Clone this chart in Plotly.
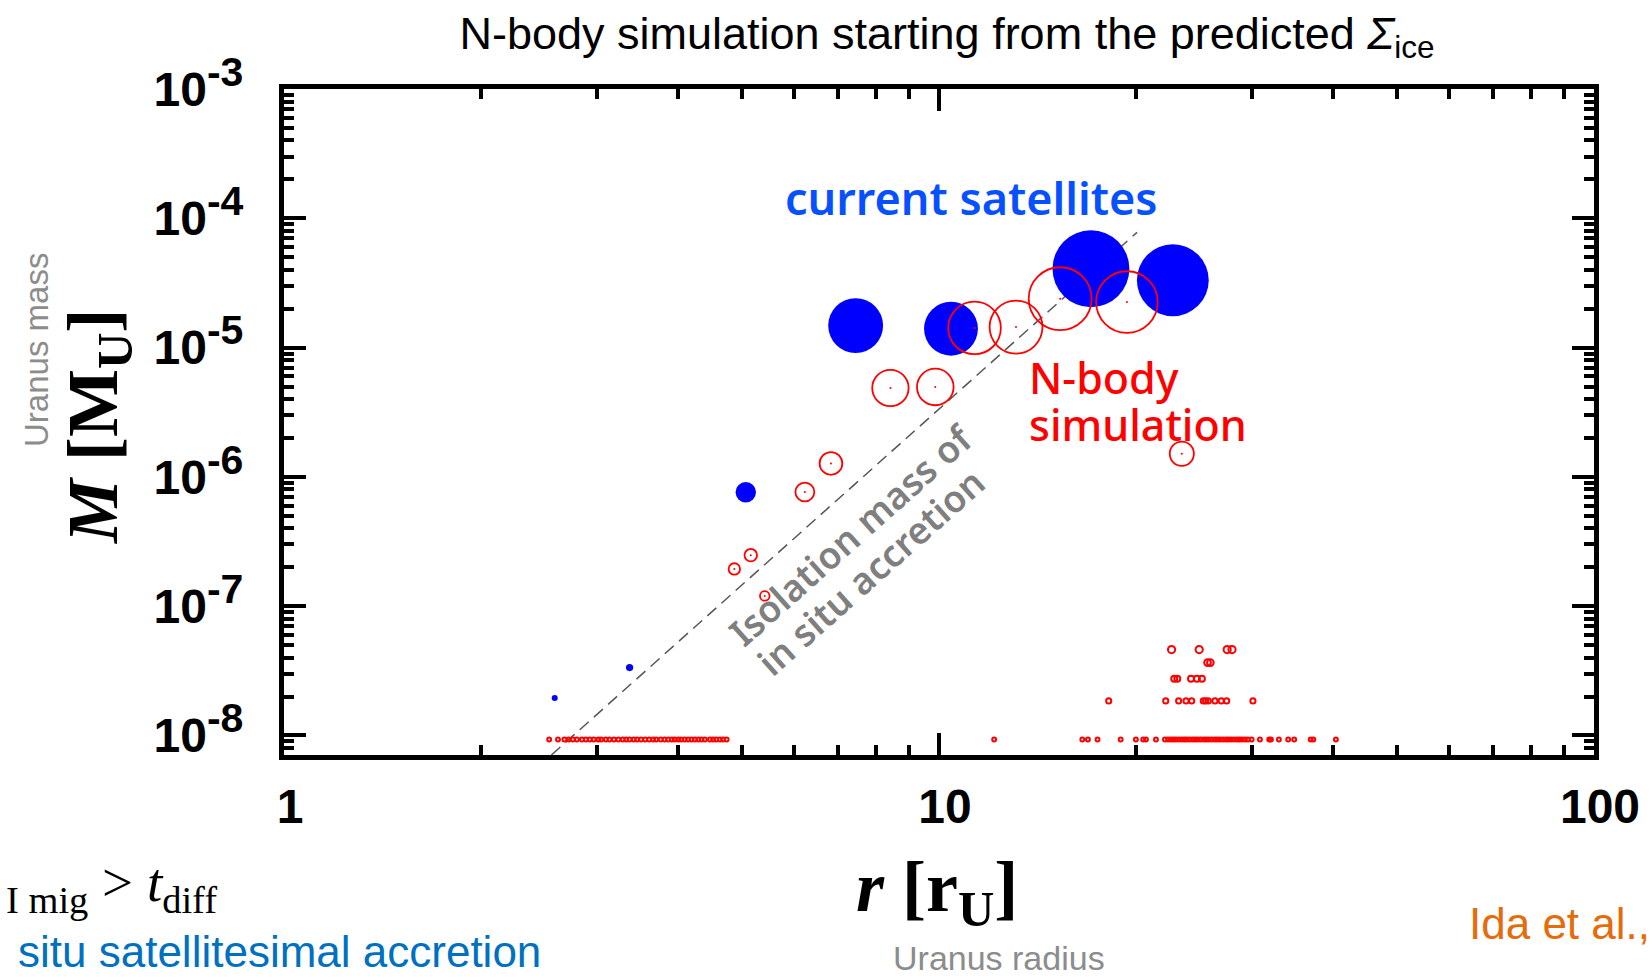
import plotly.graph_objects as go

# ---------------------------------------------------------------
# Data: orbital radius r [r_U] and mass M [M_U]
# ---------------------------------------------------------------

# Current Uranian satellites
sat_names = ["Portia", "Puck", "Miranda", "Ariel", "Umbriel", "Titania", "Oberon"]
sat_r = [2.59, 3.37, 5.07, 7.46, 10.43, 17.06, 22.75]
sat_m = [1.95e-8, 3.35e-8, 7.6e-7, 1.48e-5, 1.40e-5, 4.07e-5, 3.32e-5]

# N-body simulation: grown satellites
nb_r = [11.33, 13.11, 15.31, 19.36, 8.43, 9.87, 23.48, 6.84, 6.24, 5.16, 4.87, 5.42]
nb_m = [1.42e-5, 1.44e-5, 2.39e-5, 2.25e-5, 4.87e-6, 4.96e-6,
        1.51e-6, 1.27e-6, 7.64e-7, 2.48e-7, 1.94e-7, 1.20e-7]

# N-body simulation: leftover satellitesimals (1 to 5 merged units)
ss_mass_levels = [9.3e-9, 1.85e-8, 2.75e-8, 3.66e-8, 4.62e-8]
ss_inner_r = [2.54, 2.62, 2.68, 2.72, 2.76, 2.80, 2.85, 2.89, 2.93, 2.97, 3.02, 3.05,
              3.10, 3.14, 3.19, 3.24, 3.29, 3.33, 3.37, 3.42, 3.46, 3.51, 3.56, 3.61,
              3.66, 3.70, 3.76, 3.81, 3.86, 3.91, 3.95, 4.00, 4.04, 4.09, 4.14, 4.19,
              4.24, 4.29, 4.34, 4.39, 4.47, 4.52, 4.57, 4.63, 4.68, 4.74]
ss_outer_r_1 = [12.14, 16.55, 16.88, 17.46, 18.94, 19.98, 20.50, 20.70, 21.44,
                22.13, 22.37, 22.60, 22.80, 23.00, 23.25, 23.49, 23.70, 23.91, 24.16,
                24.42, 24.63, 24.85, 25.11, 25.38, 25.60, 25.83, 26.10, 26.38, 26.61,
                26.85, 27.13, 27.42, 27.66, 27.91, 28.20, 28.50, 28.75, 29.00, 29.31,
                29.62, 30.01, 30.90, 31.93, 32.12, 33.03, 34.13, 34.86, 36.94, 37.28, 40.36]
ss_outer_r_2 = [18.16, 22.19, 23.22, 23.83, 24.31, 25.32, 25.53, 25.77, 26.38, 26.97, 27.49, 30.15]
ss_outer_r_3 = [22.86, 23.11, 24.25, 24.76, 25.20]
ss_outer_r_4 = [25.70, 25.96]
ss_outer_r_5 = [22.65, 24.96, 27.54, 28.01]

# Isolation mass of in situ accretion (power law, end points)
iso_r = [2.56, 20.06]
iso_m = [7.06e-9, 7.79e-5]

# Axis ticks
x_tickvals = [1, 10, 100]
x_ticktext = ["1", "10", "100"]
y_tickvals = [1e-3, 1e-4, 1e-5, 1e-6, 1e-7, 1e-8]
y_exponents = ["-3", "-4", "-5", "-6", "-7", "-8"]

# ---------------------------------------------------------------
# Figure geometry
# ---------------------------------------------------------------
W, H = 1651, 977
L, R, T, B = 284, 57, 89, 222
PW, PH = W - L - R, H - T - B


def px(x):
    return (x - L) / PW


def py(y):
    return (H - B - y) / PH


SIZE_K = 2235.0  # marker diameter per M^(1/3)


def diam(m, shrink=0.0):
    return [SIZE_K * v ** (1.0 / 3.0) - shrink for v in m]


ARIAL = "Liberation Sans, Arial, Helvetica, sans-serif"
SERIF = "Liberation Serif, Times New Roman, serif"
SANS = "Noto Sans, Open Sans, sans-serif"

fig = go.Figure()

# isolation mass line
fig.add_trace(go.Scatter(
    x=iso_r, y=iso_m, mode="lines",
    line=dict(color="#555555", width=1.5, dash="12px,7px"),
    hoverinfo="skip", showlegend=False))

# current satellites
fig.add_trace(go.Scatter(
    x=sat_r, y=sat_m, mode="markers", text=sat_names,
    marker=dict(symbol="circle", color="#0000ff", size=diam(sat_m), opacity=1,
                line=dict(width=0)),
    showlegend=False))

# N-body grown bodies (rings with centre dots)
fig.add_trace(go.Scatter(
    x=nb_r, y=nb_m, mode="markers",
    marker=dict(symbol="circle-open", color="#ff0000", size=diam(nb_m, 1.5), opacity=1,
                line=dict(width=1.8)),
    showlegend=False))
fig.add_trace(go.Scatter(
    x=nb_r, y=nb_m, mode="markers",
    marker=dict(symbol="circle", color="#ff0000", size=2, opacity=1, line=dict(width=0)),
    hoverinfo="skip", showlegend=False))

# leftover satellitesimals
ss_rows = [ss_inner_r + ss_outer_r_1, ss_outer_r_2, ss_outer_r_3, ss_outer_r_4, ss_outer_r_5]
for row_r, m in zip(ss_rows, ss_mass_levels):
    fig.add_trace(go.Scatter(
        x=row_r, y=[m] * len(row_r), mode="markers",
        marker=dict(symbol="circle-open", color="#ff0000", opacity=1,
                    size=diam([m], 0.8)[0], line=dict(width=2)),
        showlegend=False))

# ---------------------------------------------------------------
# Axes
# ---------------------------------------------------------------
x_minor = [k * 10 ** e for e in (0, 1) for k in range(2, 10)]
y_minor = [k * 10.0 ** e for e in range(-9, -3) for k in range(2, 10)]

axis_common = dict(
    showline=True, linewidth=5, linecolor="black", mirror="ticks",
    ticks="inside", ticklen=22, tickwidth=4, tickcolor="black",
    showgrid=False, zeroline=False,
    tickfont=dict(family=ARIAL, size=48, color="black", weight="bold"),
)

fig.update_xaxes(
    type="log", range=[0, 2], tickmode="array",
    tickvals=x_tickvals, ticktext=x_ticktext,
    ticklabelstandoff=5, ticklabelshift=6,
    minor=dict(tickmode="array", tickvals=x_minor, ticks="inside",
               ticklen=10, tickwidth=3.5, tickcolor="black", showgrid=False),
    **axis_common)

fig.update_yaxes(
    type="log", range=[-8.151, -3], tickmode="array",
    tickvals=y_tickvals,
    ticktext=["10<sup><span style='font-size:41px'>%s</span></sup>" % e for e in y_exponents],
    ticklabelstandoff=26,
    minor=dict(tickmode="array", tickvals=y_minor, ticks="inside",
               ticklen=10, tickwidth=3.5, tickcolor="black", showgrid=False),
    **axis_common)

# ---------------------------------------------------------------
# Text
# ---------------------------------------------------------------
ann = []


def add_text(text, x, y, size, color="black", family=ARIAL, angle=0,
             xanchor="center", yanchor="middle", weight="normal", align="center"):
    ann.append(dict(
        text=text, x=px(x), y=py(y), xref="paper", yref="paper",
        xanchor=xanchor, yanchor=yanchor, showarrow=False, textangle=angle,
        align=align,
        font=dict(family=family, size=size, color=color, weight=weight)))


# axis titles
add_text("<i>M</i> [M<sub>U</sub>]", 98, 427, 72, family=SERIF, angle=-90, weight="bold")
add_text("Uranus mass", 36, 350, 33, color="#8c8c8c", angle=-90)
add_text("<i>r</i> [r<sub>U</sub>]", 937, 892, 72, family=SERIF, weight="bold")
add_text("Uranus radius", 999, 958, 34, color="#8c8c8c")

# in-plot labels
add_text("current satellites", 971, 197, 45, color="#0650ff", family=SANS, weight=600)
add_text("N-body", 1027, 377, 43, color="#ff0000", family=SANS, xanchor="left", weight=500)
add_text("simulation", 1027, 424, 43, color="#ff0000", family=SANS, xanchor="left", weight=500)
add_text("Isolation mass of", 850, 534, 37, color="#7f7f7f", family=SANS, angle=-41.7, weight=600)
add_text("in situ accretion", 870, 571, 37, color="#7f7f7f", family=SANS, angle=-41.7, weight=600)

# surrounding slide text
add_text("<sub>I mig</sub> > <i>t</i><sub>diff</sub>", 4, 886, 55, family=SERIF, xanchor="left")
add_text("situ satellitesimal accretion", 16, 951, 44, color="#0070c0", xanchor="left")
add_text("Ida et al.,", 1467, 923, 44, color="#e46c0a", xanchor="left")

fig.update_layout(
    width=W, height=H,
    margin=dict(l=L, r=R, t=T, b=B, autoexpand=False),
    paper_bgcolor="white", plot_bgcolor="white",
    title=dict(
        text="N-body simulation starting from the predicted <i>Σ</i><sub>ice</sub>",
        x=px(947), xref="paper", xanchor="center",
        y=1 - 33 / H, yref="container", yanchor="middle",
        font=dict(family=ARIAL, size=45, color="black")),
    annotations=ann,
    showlegend=False,
)

fig.write_html("out.html")
